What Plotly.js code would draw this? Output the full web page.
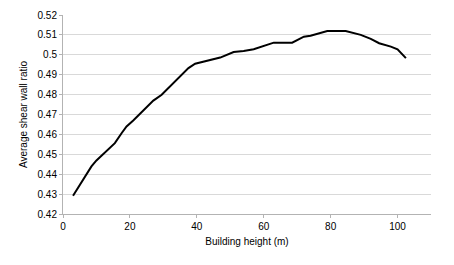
<!DOCTYPE html>
<html>
<head>
<meta charset="utf-8">
<script src="https://cdn.plot.ly/plotly-3.0.1.min.js"></script>
<style>html,body{margin:0;padding:0;background:#fff;}#chart{width:454px;height:265px;}</style>
</head>
<body>
<div id="chart"></div>
<script>
const buildingHeight = [3, 6, 8.5, 10, 13, 15.5, 17.5, 19, 21, 24, 27, 29.5, 33, 37.5, 39.5, 41, 44, 47, 51, 54, 57, 60, 63, 68.5, 72, 74, 75.5, 79, 84.5, 89, 92, 94.5, 98, 100, 102.5];
const shearWallRatio = [0.4292, 0.4372, 0.4439, 0.4469, 0.4514, 0.4556, 0.4606, 0.4640, 0.4670, 0.4718, 0.4770, 0.4799, 0.4857, 0.4933, 0.4955, 0.4961, 0.4971, 0.4986, 0.5014, 0.5019, 0.5028, 0.5044, 0.5061, 0.5061, 0.5091, 0.5096, 0.5103, 0.5120, 0.5120, 0.5100, 0.5080, 0.5058, 0.5041, 0.5028, 0.4983];
const xTicks = [0, 20, 40, 60, 80, 100];
const yTicks = [0.42, 0.43, 0.44, 0.45, 0.46, 0.47, 0.48, 0.49, 0.5, 0.51, 0.52];
const yTickText = ["0.42", "0.43", "0.44", "0.45", "0.46", "0.47", "0.48", "0.49", "0.5", "0.51", "0.52"];

const font = {family: "Liberation Sans, Arial, sans-serif", size: 10, color: "#000"};
Plotly.newPlot("chart", [{
  x: buildingHeight, y: shearWallRatio, type: "scatter", mode: "lines",
  line: {color: "#000", width: 2}, hoverinfo: "none"
}], {
  width: 454, height: 265,
  margin: {l: 63, r: 23, t: 15, b: 51},
  paper_bgcolor: "#fff", plot_bgcolor: "#fff",
  font: font, showlegend: false,
  xaxis: {
    range: [0, 110], tickvals: xTicks, ticktext: xTicks.map(String),
    showgrid: false, zeroline: false, showline: true, linecolor: "#b3b3b3", linewidth: 1,
    ticks: "outside", ticklen: 3, tickcolor: "#b3b3b3",
    title: {text: "Building height (m)", font: font, standoff: 6}
  },
  yaxis: {
    range: [0.42, 0.52], tickvals: yTicks, ticktext: yTickText,
    showgrid: true, gridcolor: "#d9d9d9", gridwidth: 1, zeroline: false,
    showline: true, linecolor: "#b3b3b3", linewidth: 1,
    ticks: "outside", ticklen: 3, tickcolor: "#b3b3b3",
    title: {text: "Average shear wall ratio", font: font, standoff: 8}
  }
}, {staticPlot: true, displayModeBar: false});
</script>
</body>
</html>
